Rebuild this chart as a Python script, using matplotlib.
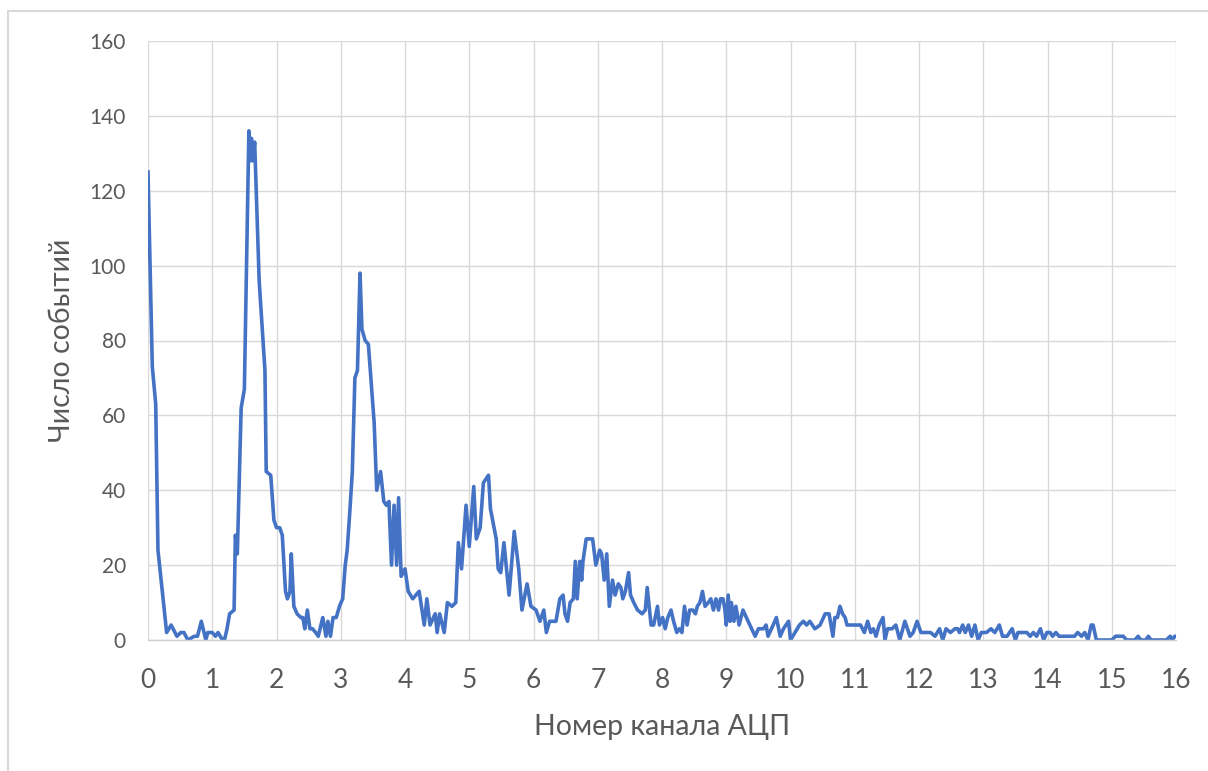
import matplotlib.pyplot as plt
from matplotlib.patches import Rectangle

plt.rcParams['font.family'] = ['Lato', 'Noto Sans', 'DejaVu Sans']

# ---- data (channel, number of events) ----
channel = [
    0, 0.067, 0.12, 0.155, 0.29, 0.36, 0.45, 0.51, 0.56, 0.62,
    0.72, 0.77, 0.83, 0.90, 0.93, 1.0, 1.05, 1.09, 1.16, 1.19,
    1.23, 1.27, 1.34, 1.36, 1.39, 1.45, 1.50, 1.57, 1.59, 1.61,
    1.63, 1.66, 1.73, 1.82, 1.84, 1.91, 1.96, 2.0, 2.05, 2.09,
    2.14, 2.17, 2.21, 2.23, 2.27, 2.32, 2.38, 2.41, 2.44, 2.48,
    2.52, 2.56, 2.61, 2.65, 2.72, 2.77, 2.80, 2.84, 2.88, 2.93,
    2.98, 3.03, 3.07, 3.10, 3.14, 3.18, 3.22, 3.26, 3.30, 3.33,
    3.38, 3.43, 3.52, 3.56, 3.62, 3.67, 3.71, 3.75, 3.79, 3.83,
    3.87, 3.90, 3.94, 4.0, 4.05, 4.12, 4.22, 4.30, 4.34, 4.39,
    4.47, 4.50, 4.54, 4.61, 4.66, 4.73, 4.79, 4.83, 4.88, 4.95,
    5.0, 5.07, 5.11, 5.17, 5.22, 5.30, 5.33, 5.42, 5.45, 5.49,
    5.54, 5.62, 5.70, 5.77, 5.82, 5.90, 5.96, 6.04, 6.10, 6.16,
    6.20, 6.25, 6.35, 6.41, 6.46, 6.49, 6.53, 6.57, 6.62, 6.65,
    6.68, 6.72, 6.75, 6.77, 6.82, 6.85, 6.92, 6.97, 7.03, 7.06,
    7.10, 7.14, 7.18, 7.23, 7.27, 7.32, 7.36, 7.39, 7.43, 7.48,
    7.51, 7.56, 7.62, 7.69, 7.74, 7.77, 7.83, 7.87, 7.93, 7.96,
    8.01, 8.05, 8.09, 8.14, 8.18, 8.23, 8.27, 8.31, 8.35, 8.39,
    8.43, 8.48, 8.52, 8.55, 8.59, 8.63, 8.67, 8.72, 8.76, 8.80,
    8.84, 8.88, 8.91, 8.95, 8.98, 9.0, 9.03, 9.06, 9.08, 9.12,
    9.15, 9.20, 9.26, 9.34, 9.45, 9.50, 9.58, 9.62, 9.65, 9.73,
    9.78, 9.84, 9.89, 9.97, 10.0, 10.07, 10.14, 10.2, 10.25, 10.3,
    10.38, 10.46, 10.54, 10.60, 10.66, 10.69, 10.73, 10.77, 10.81, 10.85,
    10.88, 10.95, 11.02, 11.09, 11.15, 11.20, 11.25, 11.29, 11.33, 11.38,
    11.44, 11.47, 11.51, 11.58, 11.64, 11.70, 11.78, 11.86, 11.91, 11.97,
    12.03, 12.12, 12.18, 12.25, 12.32, 12.37, 12.42, 12.49, 12.56, 12.60,
    12.63, 12.68, 12.72, 12.77, 12.82, 12.87, 12.92, 12.97, 13.05, 13.12,
    13.18, 13.25, 13.30, 13.37, 13.45, 13.50, 13.54, 13.61, 13.68, 13.73,
    13.78, 13.83, 13.89, 13.94, 13.99, 14.04, 14.08, 14.13, 14.18, 14.25,
    14.30, 14.35, 14.42, 14.47, 14.53, 14.58, 14.63, 14.68, 14.71, 14.76,
    14.84, 15.0, 15.06, 15.18, 15.23, 15.36, 15.41, 15.45, 15.53, 15.57,
    15.61, 15.85, 15.91, 15.94, 15.98, 16.0,
]
events = [
    125, 73, 63, 24, 2, 4, 1, 2, 2, 0,
    1, 1, 5, 0, 2, 2, 1, 2, 0, 0,
    3, 7, 8, 28, 23, 62, 67, 136, 128, 134,
    128, 133, 96, 72, 45, 44, 32, 30, 30, 28,
    13, 11, 13, 23, 9, 7, 6, 6, 3, 8,
    3, 3, 2, 1, 6, 1, 5, 1, 6, 6,
    9, 11, 20, 24, 34, 45, 70, 72, 98, 83,
    80, 79, 58, 40, 45, 37, 36, 37, 20, 36,
    20, 38, 17, 19, 13, 11, 13, 4, 11, 4,
    7, 2, 7, 2, 10, 9, 10, 26, 19, 36,
    25, 41, 27, 30, 42, 44, 35, 27, 19, 18,
    26, 12, 29, 19, 8, 15, 9, 8, 5, 8,
    2, 5, 5, 11, 12, 7, 5, 10, 11, 21,
    11, 21, 16, 21, 27, 27, 27, 20, 24, 23,
    16, 23, 9, 16, 12, 15, 14, 11, 13, 18,
    12, 10, 8, 7, 8, 14, 4, 4, 9, 4,
    6, 3, 6, 8, 5, 2, 3, 2, 9, 4,
    8, 8, 7, 9, 10, 13, 9, 10, 11, 8,
    11, 8, 11, 11, 8, 4, 12, 5, 10, 5,
    9, 4, 8, 5, 1, 3, 3, 4, 1, 4,
    6, 1, 3, 5, 0, 2, 4, 5, 4, 5,
    3, 4, 7, 7, 1, 6, 6, 9, 7, 6,
    4, 4, 4, 4, 2, 5, 2, 3, 1, 4,
    6, 0, 3, 3, 4, 0, 5, 1, 2, 5,
    2, 2, 2, 1, 3, 0, 3, 2, 3, 3,
    2, 4, 2, 4, 1, 4, 0, 2, 2, 3,
    2, 4, 1, 1, 3, 0, 2, 2, 2, 1,
    2, 1, 3, 0, 2, 2, 1, 2, 1, 1,
    1, 1, 1, 2, 1, 2, 0, 4, 4, 0,
    0, 0, 1, 1, 0, 0, 1, 0, 0, 1,
    0, 0, 1, 0, 1, 1,
]

x_ticks = list(range(0, 17))
y_ticks = list(range(0, 161, 20))

x_label = 'Номер канала АЦП'
y_label = 'Число событий'

text_color = '#595959'
grid_color = '#D9D9D9'
line_color = '#4472C4'

W, H = 1208, 771
fig = plt.figure(figsize=(W / 100, H / 100), dpi=100)
fig.patches.append(Rectangle((8 / W, -0.1), 1.2, 1 - 11 / H + 0.1,
                             transform=fig.transFigure, fill=False,
                             edgecolor=grid_color, lw=1.5))

ax = fig.add_axes([148 / W, 1 - 640 / H, (1176 - 148) / W, (640 - 41) / H])
ax.plot(channel, events, color=line_color, lw=2.6, solid_joinstyle='round')

ax.set_xlim(0, 16)
ax.set_ylim(0, 160)
ax.set_xticks(x_ticks)
ax.set_yticks(y_ticks)
ax.grid(True, color=grid_color, lw=1.0)
ax.set_axisbelow(True)
for side in ['left', 'right', 'top']:
    ax.spines[side].set_visible(False)
ax.spines['bottom'].set_color('#CFCFCF')
ax.spines['bottom'].set_linewidth(1.0)

ax.tick_params(axis='both', length=0, colors=text_color)
ax.tick_params(axis='y', labelsize=15, pad=16)
ax.tick_params(axis='x', labelsize=19, pad=20)

ax.set_xlabel(x_label, fontsize=20.5, color=text_color)
ax.set_ylabel(y_label, fontsize=20.5, color=text_color)
ax.xaxis.set_label_coords(0.5, (640 - 727) / 599)
ax.xaxis.label.set_va('center')
ax.yaxis.set_label_coords((62 - 148) / 1028, 0.5)
ax.yaxis.label.set_va('center')

fig.savefig('out.png', dpi=100)
